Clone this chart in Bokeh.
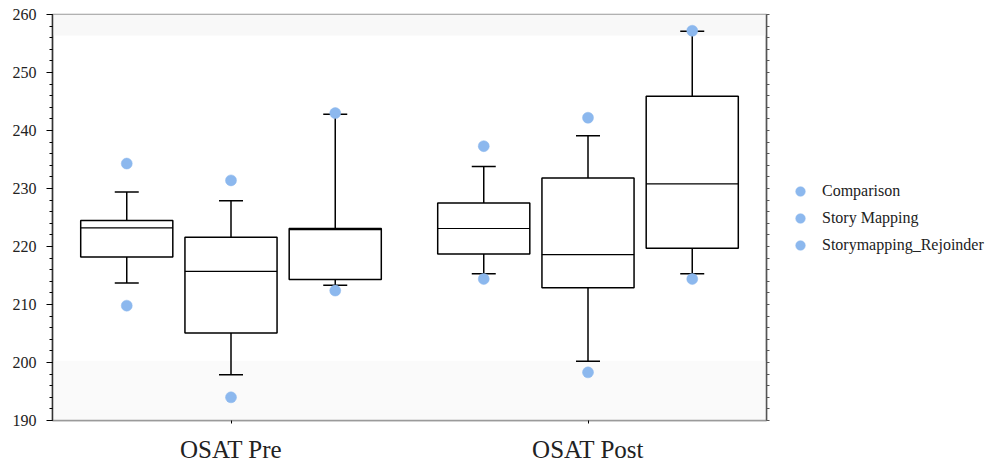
from bokeh.plotting import figure
from bokeh.layouts import row
from bokeh.models import (ColumnDataSource, FactorRange, Range1d, LinearAxis, Legend,
                          LegendItem, FixedTicker, BoxAnnotation)
from bokeh.transform import dodge
from bokeh.embed import file_html
from bokeh.resources import INLINE

# OSAT score distributions by test occasion and group
groups = ["OSAT Pre", "OSAT Post"]
series = ["Comparison", "Story Mapping", "Storymapping_Rejoinder"]

comparison_lower = [213.7, 215.3]
comparison_q1 = [218.2, 218.7]
comparison_median = [223.2, 223.1]
comparison_q3 = [224.5, 227.5]
comparison_upper = [229.4, 233.8]
comparison_outliers = [[234.3, 209.8], [237.3, 214.4]]

story_lower = [197.9, 200.2]
story_q1 = [205.1, 212.9]
story_median = [215.7, 218.6]
story_q3 = [221.6, 231.8]
story_upper = [227.9, 239.1]
story_outliers = [[231.4, 194.0], [242.2, 198.3]]

rejoinder_lower = [213.3, 215.3]
rejoinder_q1 = [214.3, 219.7]
rejoinder_median = [222.9, 230.8]
rejoinder_q3 = [223.1, 245.9]
rejoinder_upper = [242.8, 257.1]
rejoinder_outliers = [[243.0, 212.4], [257.2, 214.4]]

stats = [
    (comparison_lower, comparison_q1, comparison_median, comparison_q3, comparison_upper, comparison_outliers),
    (story_lower, story_q1, story_median, story_q3, story_upper, story_outliers),
    (rejoinder_lower, rejoinder_q1, rejoinder_median, rejoinder_q3, rejoinder_upper, rejoinder_outliers),
]
offsets = [-0.292, 0.0, 0.292]
box_width = 0.258

SERIF = "Liberation Serif"
DOT = "#8cb8ee"

p = figure(x_range=FactorRange(*groups, range_padding=0.0), y_range=Range1d(190, 260),
           width=780, height=466, output_backend="svg", toolbar_location=None,
           min_border_left=52, min_border_right=14, min_border_top=14, min_border_bottom=46)

p.xgrid.visible = False
p.ygrid.visible = False
p.outline_line_color = "#9a9a9a"
p.outline_line_width = 1.5

# faint shaded bands near the top and bottom of the plotting area
p.add_layout(BoxAnnotation(bottom=256.4, top=260, fill_color="#f8f8f8", fill_alpha=1, line_alpha=0, level="underlay"))
p.add_layout(BoxAnnotation(bottom=190, top=200.3, fill_color="#fafafa", fill_alpha=1, line_alpha=0, level="underlay"))

for name, off, (lo, q1, med, q3, up, outs) in zip(series, offsets, stats):
    src = ColumnDataSource(dict(group=groups, lower=lo, q1=q1, median=med, q3=q3, upper=up))
    xpos = dodge("group", off, range=p.x_range)
    # whiskers
    p.segment(x0=xpos, y0="q3", x1=xpos, y1="upper", source=src, line_color="black", line_width=1.5)
    p.segment(x0=xpos, y0="lower", x1=xpos, y1="q1", source=src, line_color="black", line_width=1.5)
    p.scatter(x=xpos, y="upper", source=src, marker="dash", size=24, line_color="black", line_width=1.5)
    p.scatter(x=xpos, y="lower", source=src, marker="dash", size=24, line_color="black", line_width=1.5)
    # box and median
    p.vbar(x=xpos, width=box_width, bottom="q1", top="q3", source=src,
           fill_color="white", line_color="black", line_width=1.5)
    p.vbar(x=xpos, width=box_width, bottom="median", top="median", source=src,
           fill_alpha=0, line_color="black", line_width=1.2)
    # outlying points
    ox, oy = [], []
    for g, vals in zip(groups, outs):
        for v in vals:
            ox.append(g)
            oy.append(v)
    osrc = ColumnDataSource(dict(group=ox, value=oy))
    p.scatter(x=dodge("group", off, range=p.x_range), y="value", source=osrc,
              size=11, fill_color=DOT, line_color=DOT, line_alpha=0.5)

# y axis
yax = p.yaxis[0]
yax.ticker = FixedTicker(ticks=list(range(190, 261, 10)),
                         minor_ticks=[v for v in range(190, 261, 2)])
yax.major_label_text_font = SERIF
yax.major_label_text_font_size = "16px"
yax.major_label_text_color = "#222222"
yax.axis_line_color = "#333333"
yax.axis_line_width = 1.5
yax.major_tick_out = 6
yax.major_tick_in = 0
yax.minor_tick_out = 3
yax.minor_tick_in = 0
yax.major_label_standoff = 10

# right-hand frame edge carries unlabeled tick marks only
rax = LinearAxis(ticker=FixedTicker(ticks=[], minor_ticks=[v for v in range(190, 261, 2)]))
rax.axis_line_color = "#555555"
rax.axis_line_width = 1.5
rax.minor_tick_out = 3
rax.minor_tick_in = 0
rax.minor_tick_line_color = "#555555"
p.add_layout(rax, "right")

# category axis
xax = p.xaxis[0]
xax.major_label_text_font = SERIF
xax.major_label_text_font_size = "25px"
xax.major_label_text_color = "#222222"
xax.axis_line_color = "#9a9a9a"
xax.axis_line_width = 1.5
xax.major_tick_out = 3
xax.major_tick_in = 0
xax.major_label_standoff = 12

# legend panel beside the chart; each key glyph sits outside the visible range
lg = figure(width=210, height=466, output_backend="svg", toolbar_location=None,
            x_axis_type=None, y_axis_type=None, min_border=0,
            x_range=Range1d(0, 1), y_range=Range1d(0, 1))
lg.grid.visible = False
lg.outline_line_color = None
key_renderers = [lg.scatter(x=[-1], y=[-1], size=11, fill_color=DOT, line_color=DOT, line_alpha=0.5)
                 for _ in series]
legend = Legend(items=[LegendItem(label=n, renderers=[r]) for n, r in zip(series, key_renderers)],
                location=(4, 159), border_line_alpha=0, background_fill_alpha=0,
                label_text_font=SERIF, label_text_font_size="16px", label_text_color="#222222",
                glyph_width=24, glyph_height=24, label_height=24, spacing=3, padding=4,
                margin=0, label_standoff=10)
lg.add_layout(legend)

layout = row(p, lg)
open("out.html", "w").write(file_html(layout, INLINE))
